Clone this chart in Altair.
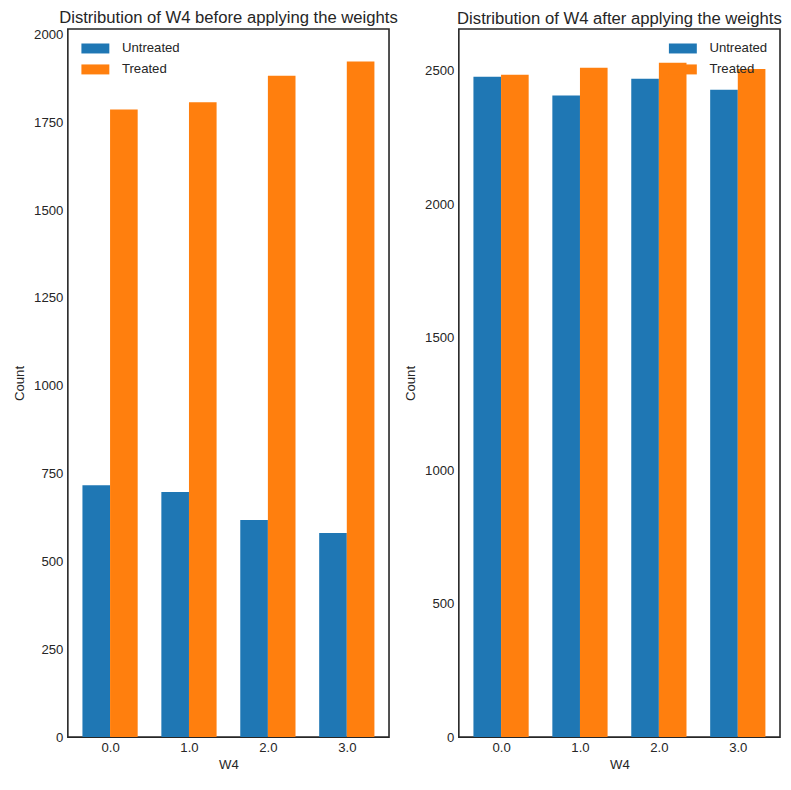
import altair as alt
import pandas as pd

w4 = [0.0, 1.0, 2.0, 3.0]
groups = ["Untreated", "Treated"]
before_untreated = [717, 698, 618, 581]
before_treated = [1787, 1807, 1883, 1923]
after_untreated = [2478, 2407, 2470, 2429]
after_treated = [2485, 2511, 2530, 2507]
y_ticks_before = [0, 250, 500, 750, 1000, 1250, 1500, 1750, 2000]
y_ticks_after = [0, 500, 1000, 1500, 2000, 2500]
colors = ["#1f77b4", "#ff7f0e"]
bar_w = 0.35

FONT = "Liberation Sans"
TXT = "#262626"
FS = 13.2


def make_df(unt, trt):
    rows = []
    for v, c in zip(w4, unt):
        rows.append({"w4": v, "group": "Untreated", "count": c})
    for v, c in zip(w4, trt):
        rows.append({"w4": v, "group": "Treated", "count": c})
    return pd.DataFrame(rows)


def panel(df, title, ymax, yticks, legend_x):
    return (
        alt.Chart(df, title=title)
        .transform_calculate(
            x0=f"datum.group == 'Untreated' ? datum.w4 - {bar_w} : datum.w4",
            x1=f"datum.group == 'Untreated' ? datum.w4 : datum.w4 + {bar_w}",
        )
        .mark_rect()
        .encode(
            x=alt.X("x0:Q", title="W4",
                    scale=alt.Scale(domain=[-0.535, 3.535], nice=False, zero=False),
                    axis=alt.Axis(values=w4, format=".1f", grid=False, ticks=False,
                                  domain=False, labelPadding=4, titlePadding=5)),
            x2="x1:Q",
            y=alt.Y("count:Q", title="Count",
                    scale=alt.Scale(domain=[0, ymax], nice=False),
                    axis=alt.Axis(values=yticks, format="d", grid=False, ticks=False,
                                  domain=False, labelPadding=5, titlePadding=7)),
            y2=alt.datum(0),
            color=alt.Color("group:N", title=None,
                            scale=alt.Scale(domain=groups, range=colors),
                            legend=alt.Legend(
                                orient="none",
                                legendX=legend_x,
                                legendY=13,
                                symbolType="M-2.8,-1H2.8V1H-2.8Z",
                                symbolSize=100,
                                symbolStrokeWidth=0,
                                symbolOpacity=1,
                                labelOffset=20,
                                rowPadding=7,
                                padding=0,
                            )),
        )
        .properties(width=322, height=710)
    )


left = panel(make_df(before_untreated, before_treated),
             "Distribution of W4 before applying the weights", 2016, y_ticks_before, 21)
right = panel(make_df(after_untreated, after_treated),
              "Distribution of W4 after applying the weights", 2657, y_ticks_after, 218)

chart = (
    alt.hconcat(left, right, spacing=70, bounds="flush")
    .resolve_scale(color="independent", y="independent")
    .properties(padding={"left": 3, "top": 0, "right": 0, "bottom": 0})
    .configure(font=FONT)
    .configure_view(stroke=TXT, strokeWidth=1.6)
    .configure_axis(labelFont=FONT, titleFont=FONT, labelFontSize=FS, titleFontSize=FS,
                    labelColor=TXT, titleColor=TXT, titleFontWeight="normal")
    .configure_legend(labelFont=FONT, labelFontSize=FS, labelColor=TXT)
    .configure_title(font=FONT, fontSize=16.7, fontWeight="normal", color=TXT, offset=1)
)

chart.save("out.html", embed_options={"renderer": "svg", "actions": False})
